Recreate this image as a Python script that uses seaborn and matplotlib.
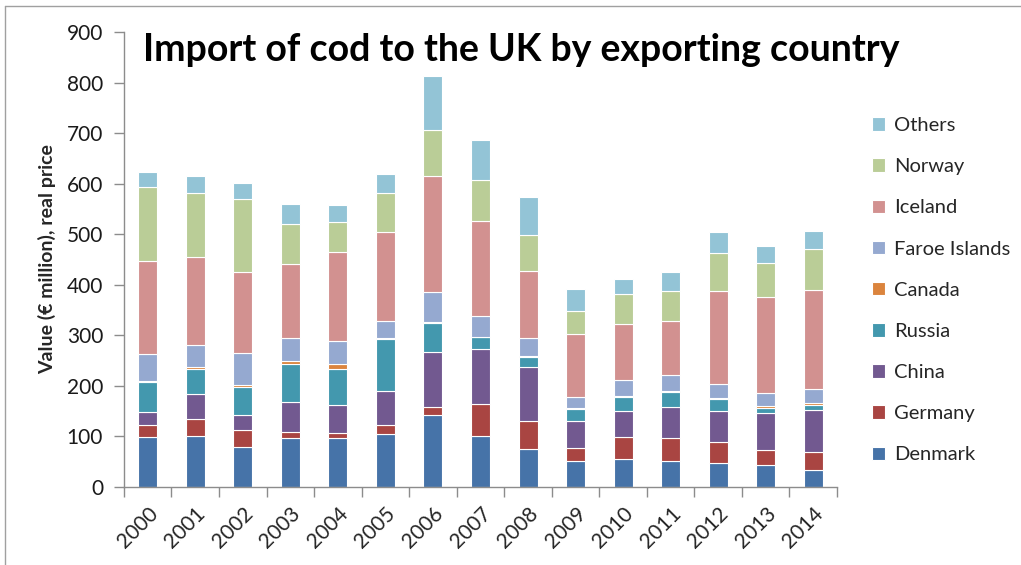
import numpy as np
import pandas as pd
import matplotlib
matplotlib.use("Agg")
import matplotlib.pyplot as plt
from matplotlib.lines import Line2D
import seaborn as sns

# Imports of cod to the UK, EUR million (real price), by exporting country
years = [2000, 2001, 2002, 2003, 2004, 2005, 2006, 2007,
         2008, 2009, 2010, 2011, 2012, 2013, 2014]

denmark = [98, 101, 78, 97, 97, 104, 141, 101, 74, 50, 54, 50, 46, 43, 34]
germany = [25, 34, 35, 12, 10, 18, 16, 63, 57, 27, 44, 47, 42, 30, 34]
china = [25, 48, 28, 59, 55, 67, 110, 108, 106, 53, 51, 61, 62, 72, 83]
russia = [59, 51, 57, 75, 72, 103, 58, 24, 20, 24, 29, 29, 23, 11, 11]
canada = [3, 4, 3, 5, 8, 2, 1, 1, 2, 1, 2, 2, 3, 4, 4]
faroe = [53, 42, 63, 47, 47, 34, 59, 41, 35, 22, 31, 32, 28, 25, 27]
iceland = [184, 175, 161, 146, 175, 177, 230, 188, 134, 125, 112, 107, 183, 190, 197]
norway = [146, 126, 145, 79, 61, 76, 92, 82, 70, 45, 58, 60, 75, 68, 80]
others = [30, 34, 31, 40, 33, 38, 107, 79, 75, 44, 30, 38, 42, 34, 37]

countries = ["Others", "Norway", "Iceland", "Faroe Islands", "Canada",
             "Russia", "China", "Germany", "Denmark"]
series = [others, norway, iceland, faroe, canada, russia, china, germany, denmark]
colors = ["#93C4D6", "#BACD97", "#D29190", "#95A9D0", "#DB843D",
          "#4398AE", "#725990", "#A94542", "#4673A8"]

df = pd.DataFrame(
    [(y, c, v) for c, vals in zip(countries, series) for y, v in zip(years, vals)],
    columns=["year", "country", "value"],
)

sns.set_theme(style="white")
plt.rcParams["font.family"] = ["Lato", "DejaVu Sans"]

fig = plt.figure(figsize=(10.21, 5.65), dpi=100)
ax = fig.add_axes([0.1214, 0.1386, 0.6984, 0.8044])

sns.histplot(
    data=df, x="year", weights="value", hue="country",
    hue_order=countries, palette=dict(zip(countries, colors)),
    multiple="stack", discrete=True, shrink=0.4,
    alpha=1, edgecolor="white", linewidth=0.8, ax=ax,
)

axis_grey = "#8C8C8C"
ax.set_xlim(min(years) - 0.5, max(years) + 0.5)
ax.set_ylim(0, 900)
ax.set_yticks(np.arange(0, 901, 100))
ax.set_xticks(years)
ax.set_xticklabels([str(y) for y in years], rotation=45, ha="right",
                   rotation_mode="anchor", fontsize=15)
ax.set_xticks(np.arange(min(years) - 0.5, max(years) + 1.0, 1.0), minor=True)
ax.tick_params(axis="x", which="major", length=0, pad=12)
ax.tick_params(axis="x", which="minor", length=7, width=1, color=axis_grey,
               direction="out", bottom=True)
ax.tick_params(axis="y", length=7, width=1, color=axis_grey, direction="out",
               left=True, pad=8, labelsize=15)
for lab in ax.get_yticklabels():
    lab.set_color("#1a1a1a")

for side in ("top", "right"):
    ax.spines[side].set_visible(False)
for side in ("left", "bottom"):
    ax.spines[side].set_color(axis_grey)
    ax.spines[side].set_linewidth(1)

ax.set_xlabel("")
ax.set_ylabel("Value (€ million), real price", fontsize=14, fontweight="bold",
              labelpad=8)

fig.text(143 / 1021, 1 - 50 / 565, "Import of cod to the UK by exporting country",
         fontsize=27, fontweight="bold", ha="left", va="center", color="black")

sns.move_legend(
    ax, loc="upper left", bbox_to_anchor=(854 / 1021, 1 - 99 / 565),
    bbox_transform=fig.transFigure, frameon=False, title=None, fontsize=14.5,
    handlelength=0.65, handleheight=0.65, handletextpad=0.45, labelspacing=1.2,
)

# thin frame lines along the top and left of the chart area
fig.add_artist(Line2D([5 / 1021, 5 / 1021], [0, 1 - 6 / 565],
                      transform=fig.transFigure, color="#A0A0A0", lw=1))
fig.add_artist(Line2D([5 / 1021, 1], [1 - 6 / 565, 1 - 6 / 565],
                      transform=fig.transFigure, color="#A0A0A0", lw=1))

fig.savefig("out.png", dpi=100)
